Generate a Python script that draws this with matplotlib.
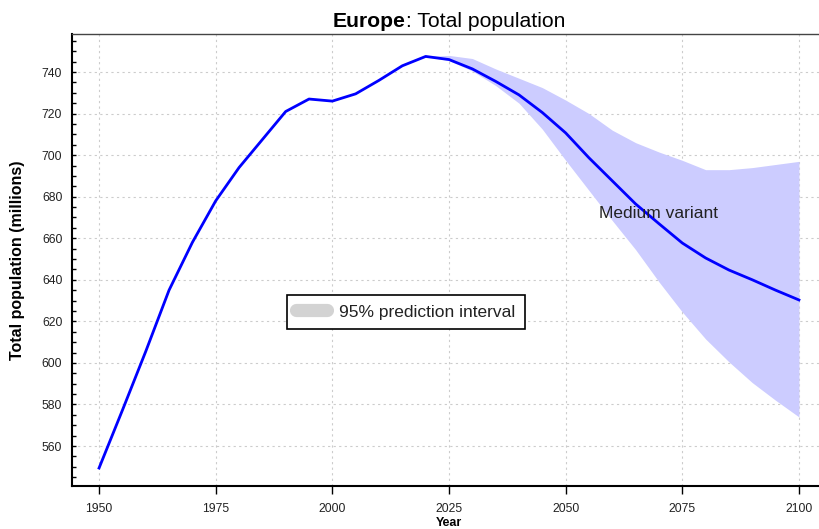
import numpy as np
import matplotlib
matplotlib.use('Agg')
import matplotlib.pyplot as plt
from matplotlib import font_manager
from matplotlib.lines import Line2D

# estimates, 1950-2020
years_hist = [1950, 1955, 1960, 1965, 1970, 1975, 1980, 1985, 1990, 1995, 2000, 2005, 2010, 2015, 2020]
pop_hist = [549.4, 577.2, 605.5, 635.0, 658.0, 678.0, 694.0, 707.5, 721.0, 727.0, 726.0, 729.5, 736.0, 743.0, 747.5]

# projections, 2020-2100
years_proj = [2020, 2025, 2030, 2035, 2040, 2045, 2050, 2055, 2060, 2065, 2070, 2075, 2080, 2085, 2090, 2095, 2100]
pop_median = [747.5, 746.0, 741.5, 735.5, 729.0, 720.5, 710.7, 698.7, 687.6, 676.5, 667.0, 657.7, 650.5, 644.7, 640.0, 635.0, 630.3]
pi_upper = [747.5, 748.0, 746.5, 741.5, 737.0, 732.5, 726.5, 720.0, 712.0, 706.0, 701.5, 697.5, 693.0, 693.0, 694.0, 695.5, 697.0]
pi_lower = [747.5, 745.5, 740.5, 733.5, 725.0, 712.5, 697.5, 683.0, 668.5, 654.5, 639.0, 624.5, 611.5, 600.5, 590.5, 582.0, 574.0]

x_ticks = [1950, 1975, 2000, 2025, 2050, 2075, 2100]
y_ticks = [560, 580, 600, 620, 640, 660, 680, 700, 720, 740]

installed = {f.name for f in font_manager.fontManager.ttflist}
narrow = 'Liberation Sans Narrow' in installed
tick_font = 'Liberation Sans Narrow' if narrow else 'Liberation Sans'
tick_size = 10.5 if narrow else 8.7

plt.rcParams['font.family'] = ['Liberation Sans', 'DejaVu Sans']

fig = plt.figure(figsize=(8.19, 5.29), dpi=100)
ax = fig.add_axes([72 / 819, 43 / 529, 747 / 819, 452 / 529])

years_all = np.array(years_hist[:-1] + years_proj)
pop_all = np.array(pop_hist[:-1] + pop_median)

ax.fill_between(years_proj, pi_lower, pi_upper, color='#ccccff', linewidth=0, zorder=2)
ax.plot(years_all, pop_all, color='#0000ff', lw=2.0, zorder=3, solid_joinstyle='round')

ax.set_xlim(1944.2, 2104.3)
ax.set_ylim(540.75, 758.3)
ax.set_xticks(x_ticks)
ax.set_yticks(y_ticks)
ax.set_yticks(np.arange(545, 760, 5), minor=True)

ax.grid(True, which='major', color='#cccccc', linestyle=(0, (2, 3)), lw=0.8, zorder=0)
ax.tick_params(axis='x', which='major', direction='out', length=6, width=1, pad=6,
               labelsize=tick_size, labelcolor='#222222')
ax.tick_params(axis='y', which='major', direction='in', length=3, width=1, pad=7,
               labelsize=tick_size, labelcolor='#222222')
ax.tick_params(axis='y', which='minor', direction='in', length=3, width=1)
for lab in ax.get_xticklabels() + ax.get_yticklabels():
    lab.set_fontfamily(tick_font)

for side in ['left', 'bottom']:
    ax.spines[side].set_linewidth(1.5)
    ax.spines[side].set_color('black')
ax.spines['top'].set_linewidth(1.0)
ax.spines['top'].set_color('#444444')
ax.spines['right'].set_visible(False)

ax.set_ylabel('Total population (millions)', fontsize=11.5, fontweight='bold')
ax.yaxis.set_label_coords(-0.0629, 0.5)
ax.set_xlabel('Year', fontsize=9, fontweight='bold')
ax.xaxis.set_label_coords(0.5047, -0.068)

ax.text(2057.1, 671.7, 'Medium variant', fontsize=12.5, va='center', ha='left', color='#222222', zorder=4)

handle = Line2D([0], [0], color='#d3d3d3', lw=9.5, solid_capstyle='round')
leg = ax.legend([handle], ['95% prediction interval'], loc='center',
                bbox_to_anchor=(0.447, 0.385), bbox_transform=ax.transAxes,
                fontsize=12.5, fancybox=False, framealpha=1, edgecolor='black',
                handlelength=1.8, handletextpad=0.7, borderpad=0.55, borderaxespad=0)
leg.get_frame().set_linewidth(1.2)
for t in leg.get_texts():
    t.set_color('#222222')

t1 = fig.text(333 / 819, 1 - 26.7 / 529, 'Europe', fontsize=15.2, fontweight='bold', ha='left', va='baseline')
ax.annotate(': Total population', xy=(1, 0), xycoords=t1, fontsize=15.2, ha='left', va='bottom',
            annotation_clip=False)

fig.savefig('out.png', dpi=100)
